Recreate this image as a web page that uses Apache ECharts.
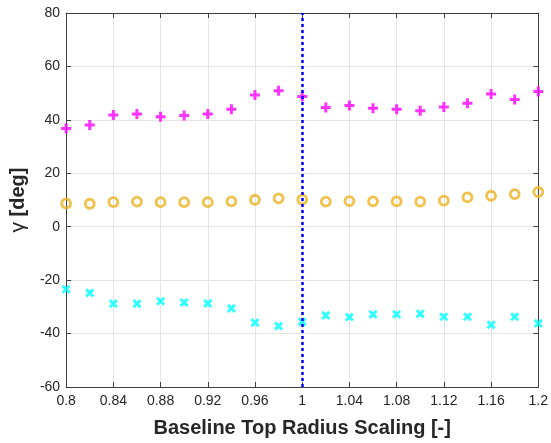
<!DOCTYPE html>
<html>
<head>
<meta charset="utf-8">
<script src="https://cdn.jsdelivr.net/npm/echarts@6/dist/echarts.min.js"></script>
<style>html,body{margin:0;padding:0;background:#fff}#c{width:551px;height:443px}</style>
</head>
<body>
<div id="c"></div>
<script>
const xValues = [0.80,0.82,0.84,0.86,0.88,0.90,0.92,0.94,0.96,0.98,1.00,1.02,1.04,1.06,1.08,1.10,1.12,1.14,1.16,1.18,1.20];
const plusSeries = [36.8,38.1,41.8,42.2,41.2,41.6,42.2,44.0,49.3,50.9,48.7,44.6,45.4,44.3,44.0,43.4,44.8,46.2,49.7,47.6,50.6];
const circleSeries = [8.7,8.6,9.2,9.4,9.2,9.2,9.2,9.5,10.1,10.6,10.2,9.4,9.6,9.5,9.5,9.4,9.8,11.0,11.6,12.2,13.0];
const crossSeries = [-23.4,-24.8,-28.8,-28.8,-27.9,-28.4,-28.7,-30.6,-35.9,-37.2,-35.6,-33.2,-33.8,-32.8,-32.8,-32.6,-33.7,-33.7,-36.7,-33.7,-36.2];
const refLineX = 1.0;
const xLabel = 'Baseline Top Radius Scaling [-]';
const yLabel = '{g|γ} [deg]';

const pair = arr => xValues.map((x, i) => [x, arr[i]]);
const plusPath = 'path://M3.5,0H6.5V3.5H10V6.5H6.5V10H3.5V6.5H0V3.5H3.5Z';
const axisCol = '#404040';
const font = 'Liberation Sans, Arial, Helvetica, sans-serif';

const chart = echarts.init(document.getElementById('c'), null, {renderer: 'canvas'});
chart.setOption({
  animation: false,
  backgroundColor: '#ffffff',
  grid: {left: 65, right: 10, top: 13, bottom: 56, containLabel: false},
  xAxis: [{
    type: 'value', min: 0.8, max: 1.2, interval: 0.04,
    name: xLabel, nameLocation: 'middle', nameGap: 31,
    nameTextStyle: {fontFamily: font, fontSize: 20, fontWeight: 'bold', color: '#262626'},
    axisLine: {show: true, onZero: false, lineStyle: {color: axisCol, width: 1}},
    axisTick: {show: true, inside: true, length: 5, lineStyle: {color: axisCol}},
    axisLabel: {fontFamily: font, fontSize: 14, color: '#262626', margin: 7,
      formatter: v => String(+v.toFixed(2))},
    splitLine: {show: true, lineStyle: {color: '#e4e4e4', width: 1}}
  }, {
    type: 'value', position: 'top', min: 0.8, max: 1.2, interval: 0.04,
    axisLine: {show: true, onZero: false, lineStyle: {color: axisCol, width: 1}},
    axisTick: {show: true, inside: true, length: 5, lineStyle: {color: axisCol}},
    axisLabel: {show: false}, splitLine: {show: false}
  }],
  yAxis: [{
    type: 'value', min: -60, max: 80, interval: 20,
    name: yLabel, nameLocation: 'middle', nameGap: 30,
    nameTextStyle: {fontFamily: font, fontSize: 20, fontWeight: 'bold', color: '#262626',
      rich: {g: {fontFamily: font, fontSize: 21, fontWeight: 'normal', color: '#262626'}}},
    axisLine: {show: true, onZero: false, lineStyle: {color: axisCol, width: 1}},
    axisTick: {show: true, inside: true, length: 5, lineStyle: {color: axisCol}},
    axisLabel: {fontFamily: font, fontSize: 14, color: '#262626', margin: 6},
    splitLine: {show: true, lineStyle: {color: '#e4e4e4', width: 1}}
  }, {
    type: 'value', position: 'right', min: -60, max: 80, interval: 20,
    axisLine: {show: true, onZero: false, lineStyle: {color: axisCol, width: 1}},
    axisTick: {show: true, inside: true, length: 5, lineStyle: {color: axisCol}},
    axisLabel: {show: false}, splitLine: {show: false}
  }],
  series: [{
    type: 'scatter', data: pair(plusSeries), symbol: plusPath, symbolSize: 10,
    itemStyle: {color: '#ff00ff'}, z: 3,
    markLine: {
      silent: true, symbol: 'none', label: {show: false},
      lineStyle: {color: '#0000ff', width: 2.5, type: [3, 3]},
      data: [{xAxis: refLineX}]
    }
  }, {
    type: 'scatter', data: pair(circleSeries), symbol: 'circle', symbolSize: 9,
    itemStyle: {color: 'rgba(0,0,0,0)', borderColor: '#EDB120', borderWidth: 2.8}, z: 3
  }, {
    type: 'scatter', data: pair(crossSeries), symbol: plusPath, symbolSize: 10, symbolRotate: 45,
    itemStyle: {color: '#00ffff'}, z: 3
  }]
});
</script>
</body>
</html>
